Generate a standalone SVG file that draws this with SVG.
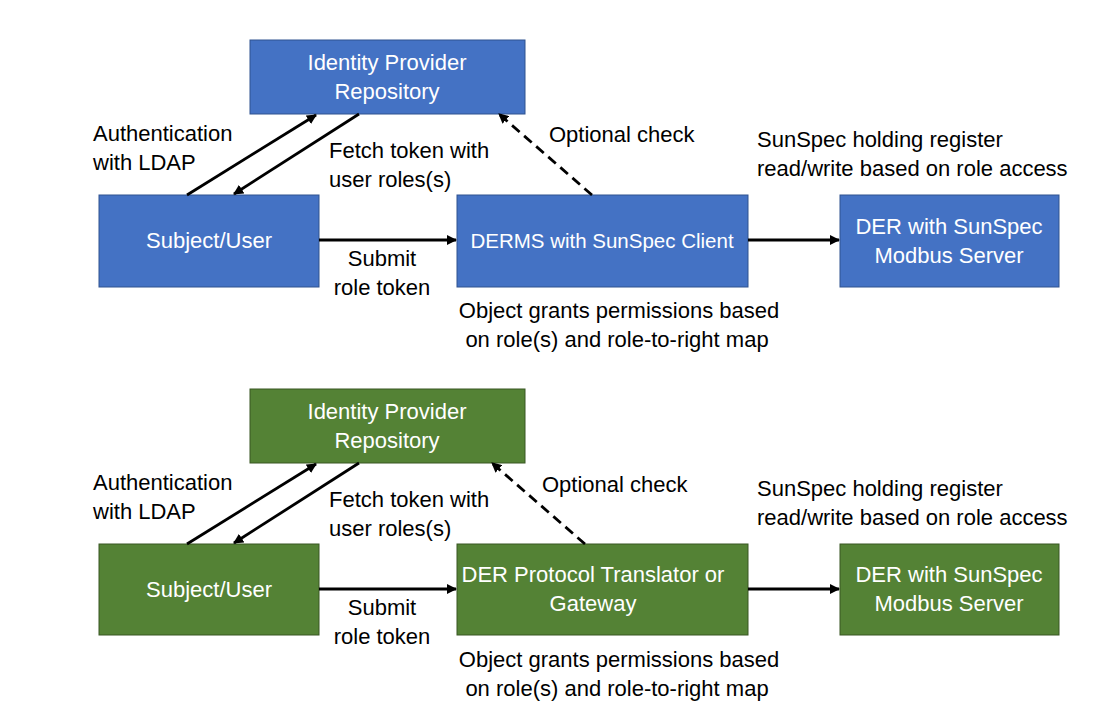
<svg xmlns="http://www.w3.org/2000/svg" width="1101" height="720" viewBox="0 0 1101 720">
<defs>
<style>
.blue{fill:#4472C4;stroke:#2F528F;stroke-width:1}
.green{fill:#548235;stroke:#385723;stroke-width:1}
.nt{font-family:"Liberation Sans",Arial,sans-serif;font-size:22px;fill:#FFFFFF;text-anchor:middle}
.lb{font-family:"Liberation Sans",Arial,sans-serif;font-size:22px;fill:#000000}
.mid{text-anchor:middle}
.ln{stroke:#000;stroke-width:2.8;fill:none}
.dash{stroke-dasharray:10,6}
</style>
<marker id="ah" viewBox="0 0 10 10" refX="9" refY="5" markerWidth="3.6" markerHeight="3.6" orient="auto" markerUnits="strokeWidth">
<path d="M0,0 L10,5 L0,10 z" fill="#000"/>
</marker>
</defs>
<rect width="1101" height="720" fill="#FFFFFF"/>

<g id="top-idp"><rect class="blue" x="250" y="40" width="275" height="74"/><text class="nt" x="387" y="70">Identity Provider</text><text class="nt" x="387" y="99">Repository</text></g>
<g id="top-user"><rect class="blue" x="99" y="195" width="220" height="92"/><text class="nt" x="209" y="248">Subject/User</text></g>
<g id="top-derms"><rect class="blue" x="457" y="195" width="291" height="92"/><text class="nt" x="602" y="248" style="font-size:20.5px">DERMS with SunSpec Client</text></g>
<g id="top-der"><rect class="blue" x="840" y="195" width="219" height="92"/><text class="nt" x="949" y="234">DER with SunSpec</text><text class="nt" x="949" y="263">Modbus Server</text></g>

<g id="bot-idp"><rect class="green" x="250" y="389" width="275" height="74"/><text class="nt" x="387" y="419">Identity Provider</text><text class="nt" x="387" y="448">Repository</text></g>
<g id="bot-user"><rect class="green" x="99" y="544" width="220" height="91"/><text class="nt" x="209" y="597">Subject/User</text></g>
<g id="bot-gw"><rect class="green" x="457" y="544" width="291" height="91"/><text class="nt" x="593" y="582">DER Protocol Translator or</text><text class="nt" x="593" y="611">Gateway</text></g>
<g id="bot-der"><rect class="green" x="840" y="544" width="219" height="91"/><text class="nt" x="949" y="582">DER with SunSpec</text><text class="nt" x="949" y="611">Modbus Server</text></g>

<g id="connectors">
<line class="ln" x1="187" y1="195" x2="316" y2="115" marker-end="url(#ah)"/>
<line class="ln" x1="359" y1="114" x2="234" y2="194" marker-end="url(#ah)"/>
<line class="ln dash" x1="592" y1="195" x2="499" y2="114" marker-end="url(#ah)"/>
<line class="ln" x1="319" y1="240" x2="456" y2="240" marker-end="url(#ah)"/>
<line class="ln" x1="748" y1="240" x2="839" y2="240" marker-end="url(#ah)"/>

<line class="ln" x1="187" y1="544" x2="316" y2="464" marker-end="url(#ah)"/>
<line class="ln" x1="359" y1="463" x2="234" y2="543" marker-end="url(#ah)"/>
<line class="ln dash" x1="585" y1="544" x2="492" y2="463" marker-end="url(#ah)"/>
<line class="ln" x1="319" y1="589" x2="456" y2="589" marker-end="url(#ah)"/>
<line class="ln" x1="748" y1="589" x2="839" y2="589" marker-end="url(#ah)"/>
</g>

<g id="labels">
<text class="lb" x="93" y="141">Authentication</text>
<text class="lb" x="93" y="170">with LDAP</text>
<text class="lb" x="329" y="158">Fetch token with</text>
<text class="lb" x="329" y="187">user roles(s)</text>
<text class="lb" x="549" y="142">Optional check</text>
<text class="lb" x="757" y="147">SunSpec holding register</text>
<text class="lb" x="757" y="176">read/write based on role access</text>
<text class="lb mid" x="382" y="266">Submit</text>
<text class="lb mid" x="382" y="295">role token</text>
<text class="lb mid" x="619" y="318">Object grants permissions based</text>
<text class="lb mid" x="617" y="347">on role(s) and role-to-right map</text>

<text class="lb" x="93" y="490">Authentication</text>
<text class="lb" x="93" y="519">with LDAP</text>
<text class="lb" x="329" y="507">Fetch token with</text>
<text class="lb" x="329" y="536">user roles(s)</text>
<text class="lb" x="542" y="492">Optional check</text>
<text class="lb" x="757" y="496">SunSpec holding register</text>
<text class="lb" x="757" y="525">read/write based on role access</text>
<text class="lb mid" x="382" y="615">Submit</text>
<text class="lb mid" x="382" y="644">role token</text>
<text class="lb mid" x="619" y="667">Object grants permissions based</text>
<text class="lb mid" x="617" y="696">on role(s) and role-to-right map</text>
</g>
</svg>
